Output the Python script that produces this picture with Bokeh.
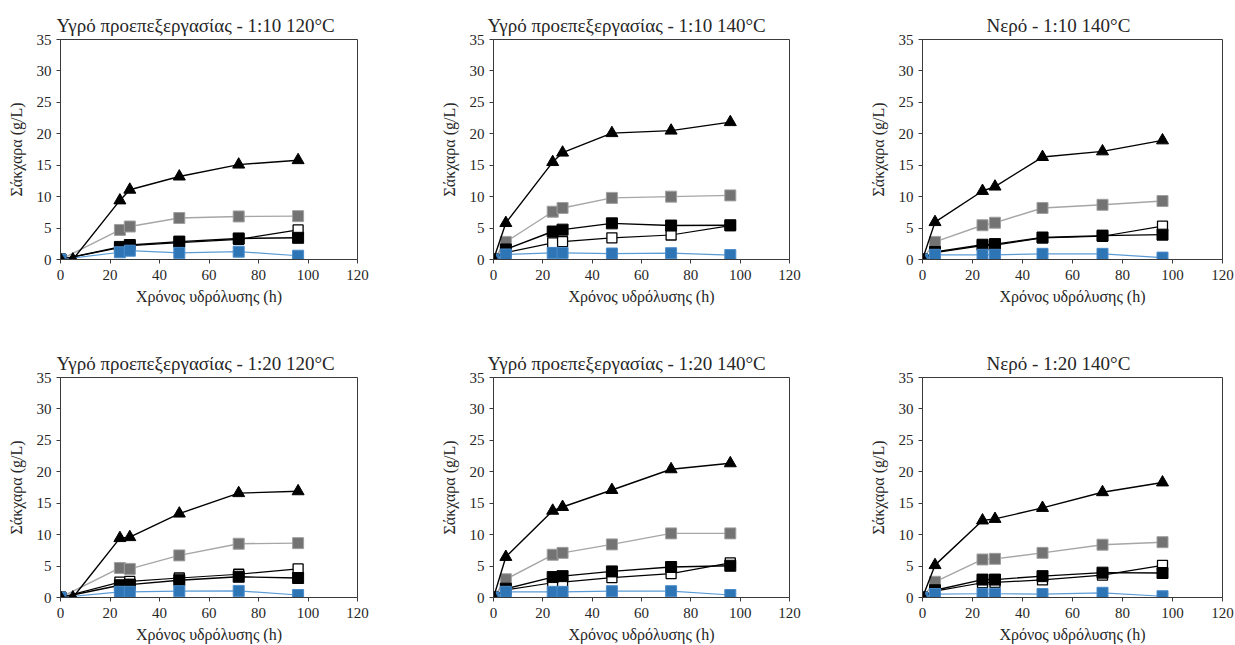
from bokeh.plotting import figure
from bokeh.layouts import column, row
from bokeh.models import Range1d, Title, FixedTicker
from bokeh.embed import file_html
from bokeh.resources import INLINE

# ---------------- data ----------------
TIME_WET = [0, 5, 24, 28, 48, 72, 96]
TIME_WATER = [0, 5, 24, 29, 48, 72, 96]

TITLES = [
    "Υγρό προεπεξεργασίας - 1:10 120°C",
    "Υγρό προεπεξεργασίας - 1:10 140°C",
    "Νερό - 1:10 140°C",
    "Υγρό προεπεξεργασίας - 1:20 120°C",
    "Υγρό προεπεξεργασίας - 1:20 140°C",
    "Νερό - 1:20 140°C",
]
X_LABEL = "Χρόνος υδρόλυσης (h)"
Y_LABEL = "Σάκχαρα (g/L)"
X_TICKS = [0, 20, 40, 60, 80, 100, 120]
Y_TICKS = [0, 5, 10, 15, 20, 25, 30, 35]

# panel 1: wet 1:10 120C
p1_tri = [0, 0, 9.4, 11.1, 13.2, 15.1, 15.8]
p1_gray = [0, None, 4.7, 5.25, 6.6, 6.85, 6.9]
p1_black = [0, None, 2.0, 2.3, 2.85, 3.35, 3.45]
p1_open = [0, None, 1.9, 2.2, 2.7, 3.2, 4.7]
p1_blue = [0, None, 1.15, 1.4, 1.05, 1.25, 0.6]
# panel 2: wet 1:10 140C
p2_tri = [0, 5.8, 15.5, 17.0, 20.1, 20.5, 21.85]
p2_gray = [0, 2.8, 7.6, 8.2, 9.8, 10.0, 10.2]
p2_black = [0, 1.6, 4.45, 4.75, 5.75, 5.4, 5.45]
p2_open = [0, 1.1, 2.65, 2.85, 3.45, 3.9, 5.4]
p2_blue = [0, 0.8, 1.05, 1.05, 0.95, 1.0, 0.7]
# panel 3: water 1:10 140C
p3_tri = [0, 5.95, 10.9, 11.6, 16.3, 17.2, 18.95]
p3_gray = [0, 2.8, 5.45, 5.85, 8.2, 8.7, 9.3]
p3_black = [0, 1.2, 2.35, 2.45, 3.5, 3.8, 3.95]
p3_open = [0, 1.1, 2.2, 2.3, 3.45, 3.7, 5.3]
p3_blue = [0, 0.75, 0.75, 0.75, 0.9, 0.9, 0.3]
# panel 4: wet 1:20 120C
p4_tri = [0, 0, 9.45, 9.6, 13.35, 16.6, 16.9]
p4_gray = [0, None, 4.7, 4.55, 6.7, 8.55, 8.65]
p4_black = [0, None, 1.95, 2.05, 2.75, 3.3, 3.1]
p4_open = [0, None, 2.45, 2.55, 3.1, 3.7, 4.55]
p4_blue = [0, None, 0.9, 0.9, 1.0, 1.05, 0.4]
# panel 5: wet 1:20 140C
p5_tri = [0, 6.45, 13.8, 14.4, 17.1, 20.4, 21.35]
p5_gray = [0, 2.9, 6.8, 7.1, 8.45, 10.2, 10.2]
p5_black = [0, 1.4, 3.25, 3.4, 4.15, 4.85, 5.05]
p5_open = [0, 1.2, 2.35, 2.45, 3.15, 3.8, 5.5]
p5_blue = [0, 0.9, 0.9, 0.9, 1.0, 1.0, 0.4]
# panel 6: water 1:20 140C
p6_tri = [0, 5.15, 12.25, 12.5, 14.25, 16.75, 18.3]
p6_gray = [0, 2.5, 6.05, 6.15, 7.1, 8.4, 8.8]
p6_black = [0, 1.15, 2.85, 2.85, 3.4, 3.95, 3.9]
p6_open = [0, 1.0, 2.35, 2.4, 2.8, 3.55, 5.1]
p6_blue = [0, 0.55, 0.6, 0.6, 0.55, 0.75, 0.2]

PANELS = [
    (TIME_WET, p1_tri, p1_gray, p1_black, p1_open, p1_blue),
    (TIME_WET, p2_tri, p2_gray, p2_black, p2_open, p2_blue),
    (TIME_WATER, p3_tri, p3_gray, p3_black, p3_open, p3_blue),
    (TIME_WET, p4_tri, p4_gray, p4_black, p4_open, p4_blue),
    (TIME_WET, p5_tri, p5_gray, p5_black, p5_open, p5_blue),
    (TIME_WATER, p6_tri, p6_gray, p6_black, p6_open, p6_blue),
]

FONT = "Liberation Serif"
TXT = "#262626"

COLS = [(420, 60, 63), (420, 73, 51), (395, 82, 13)]
ROWS = [(320, 39, 61), (325, 57, 48)]
TITLE_OFFSETS = [-4, -6, 64]


def pts(t, v):
    xs = [a for a, b in zip(t, v) if b is not None]
    ys = [b for b in v if b is not None]
    return xs, ys


def make(i):
    r, c = divmod(i, 3)
    w, bl, br = COLS[c]
    h, bt, bb = ROWS[r]
    t, tri, gray, blk, opn, blue = PANELS[i]
    p = figure(width=w, height=h, output_backend="svg", toolbar_location=None,
               x_range=Range1d(0, 120), y_range=Range1d(0, 35),
               min_border_left=bl, min_border_right=br,
               min_border_top=bt, min_border_bottom=bb)
    p.title = Title(text=TITLES[i], align="left", offset=TITLE_OFFSETS[c],
                    text_font=FONT, text_font_size="19px", text_font_style="normal",
                    text_color=TXT, standoff=8)
    p.grid.visible = False
    p.outline_line_color = "#3a3a3a"
    p.outline_line_width = 1
    for ax, ticks in ((p.xaxis, X_TICKS), (p.yaxis, Y_TICKS)):
        ax.ticker = FixedTicker(ticks=ticks)
        ax.minor_tick_line_color = None
        ax.major_tick_in = 0
        ax.major_tick_out = 4
        ax.major_tick_line_color = "#3a3a3a"
        ax.axis_line_color = "#3a3a3a"
        ax.major_label_text_font = FONT
        ax.major_label_text_font_size = "15px"
        ax.major_label_text_color = TXT
        ax.axis_label_text_font = FONT
        ax.axis_label_text_font_size = "16px"
        ax.axis_label_text_font_style = "normal"
        ax.axis_label_text_color = TXT
    p.xaxis.axis_label = X_LABEL
    p.yaxis.axis_label = Y_LABEL
    p.xaxis.major_label_standoff = 6
    p.yaxis.major_label_standoff = 5
    p.xaxis.axis_label_standoff = 5
    p.yaxis.axis_label_standoff = 9

    # gray squares
    x, y = pts(t, gray)
    p.line(x, y, line_color="#a6a6a6", line_width=1.4)
    p.scatter(x, y, marker="square", size=11, fill_color="#737373", line_color="#a0a0a0", line_width=1)
    # open squares
    x, y = pts(t, opn)
    p.line(x, y, line_color="black", line_width=1.2)
    p.scatter(x, y, marker="square", size=10, fill_color="white", line_color="black", line_width=1.3)
    # black filled squares
    x, y = pts(t, blk)
    p.line(x, y, line_color="black", line_width=1.4)
    p.scatter(x, y, marker="square", size=11, fill_color="black", line_color="black")
    # blue squares
    x, y = pts(t, blue)
    p.line(x, y, line_color="#5b9bd5", line_width=1.2)
    p.scatter(x, y, marker="square", size=11, fill_color="#2e75b6", line_color="#4a8ccb", line_width=1)
    # triangles
    x, y = pts(t, tri)
    p.line(x, y, line_color="black", line_width=1.4)
    p.scatter(x, y, marker="triangle", size=12, fill_color="black", line_color="black")
    return p


figs = [make(i) for i in range(6)]
layout = column(row(*figs[:3]), row(*figs[3:]))

open("out.html", "w").write(file_html(layout, INLINE))
